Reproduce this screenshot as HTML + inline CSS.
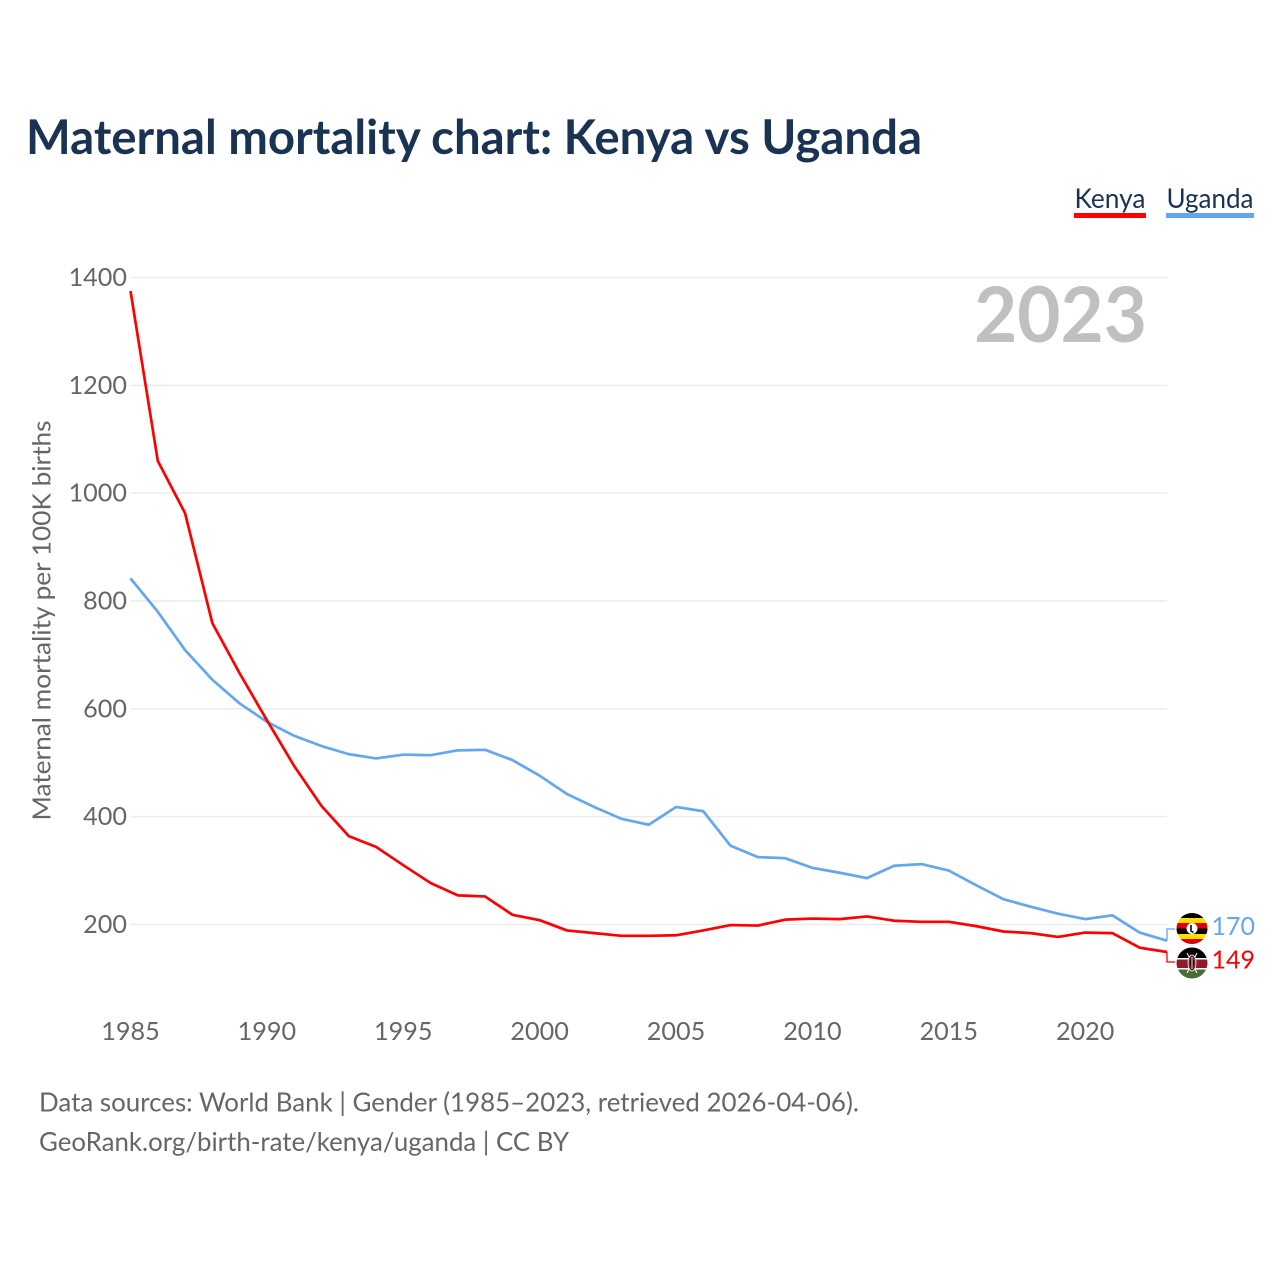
<!DOCTYPE html>
<html lang="en">
<head>
<meta charset="utf-8">
<title>Maternal mortality chart: Kenya vs Uganda</title>
<style>
html,body{margin:0;padding:0;background:#fff;}
svg{display:block;font-family:"Lato","Carlito","Liberation Sans",sans-serif;}
</style>
</head>
<body>
<svg id="chart" xmlns="http://www.w3.org/2000/svg" width="1280" height="1280" viewBox="0 0 1280 1280">
  <defs>
    <clipPath id="clip-ug"><circle cx="1192" cy="928.5" r="15.5"/></clipPath>
    <clipPath id="clip-ke"><circle cx="1192" cy="963" r="15.5"/></clipPath>
  </defs>
  <rect x="0" y="0" width="1280" height="1280" fill="#fff"/>
  <text x="26" y="154" font-size="47.5" font-weight="700" fill="#1a3353" textLength="896" lengthAdjust="spacingAndGlyphs">Maternal mortality chart: Kenya vs Uganda</text>

  <g>
    <g>
      <text x="1074.5" y="208" font-size="27" fill="#1a3353" textLength="71" lengthAdjust="spacingAndGlyphs">Kenya</text>
      <rect x="1074" y="213" width="72" height="5" fill="#ff0000"/>
    </g>
    <g>
      <text x="1166.5" y="208" font-size="27" fill="#1a3353" textLength="87" lengthAdjust="spacingAndGlyphs">Uganda</text>
      <rect x="1166" y="213" width="88" height="5" fill="#63a7ee"/>
    </g>
  </g>

  <g id="grid"></g>
  <g id="y-ticks"></g>
  <g id="x-ticks"></g>

  <text transform="translate(50.5,620.5) rotate(-90)" text-anchor="middle" font-size="25.5" fill="#666" textLength="400" lengthAdjust="spacingAndGlyphs">Maternal mortality per 100K births</text>
  <text x="1147" y="342" text-anchor="end" font-size="77" font-weight="700" fill="#c0c0c0" textLength="173" lengthAdjust="spacingAndGlyphs">2023</text>

  <g id="series"></g>
  <g id="end-labels"></g>

  <g clip-path="url(#clip-ug)">
    <rect x="1176" y="913" width="32" height="5" fill="#000"/>
    <rect x="1176" y="918" width="32" height="5" fill="#fcdc04"/>
    <rect x="1176" y="923" width="32" height="5.500" fill="#d90000"/>
    <rect x="1176" y="928.500" width="32" height="5.500" fill="#000"/>
    <rect x="1176" y="934" width="32" height="5" fill="#fcdc04"/>
    <rect x="1176" y="939" width="32" height="5" fill="#d90000"/>
    <circle cx="1192" cy="928.5" r="5.500" fill="#fff"/>
    <path d="M1191 925v6l2.500 1.500" stroke="#222" stroke-width="1.800" fill="none"/>
  </g>
  <g clip-path="url(#clip-ke)">
    <rect x="1176" y="947" width="32" height="11" fill="#000"/>
    <rect x="1176" y="958" width="32" height="1.500" fill="#fff"/>
    <rect x="1176" y="959.500" width="32" height="8.500" fill="#8f1a2b"/>
    <rect x="1176" y="968" width="32" height="1.500" fill="#fff"/>
    <rect x="1176" y="969.500" width="32" height="9" fill="#4a6b35"/>
    <path d="M1187 953l10 20M1197 953l-10 20" stroke="#fff" stroke-width="1"/>
    <ellipse cx="1192" cy="963" rx="4" ry="8" fill="#8f1a2b" stroke="#fff" stroke-width="0.800"/>
    <ellipse cx="1192" cy="963" rx="1.800" ry="6.500" fill="#000"/>
    <rect x="1191.500" y="957" width="1" height="12" fill="#fff"/>
  </g>

  <text x="39" y="1111.5" font-size="26.5" fill="#666" textLength="820" lengthAdjust="spacingAndGlyphs">Data sources: World Bank | Gender (1985–2023, retrieved 2026-04-06).</text>
  <text x="39" y="1151" font-size="26.5" fill="#666" textLength="530" lengthAdjust="spacingAndGlyphs">GeoRank.org/birth-rate/kenya/uganda | CC BY</text>

<script>
const years = [1985,1986,1987,1988,1989,1990,1991,1992,1993,1994,1995,1996,1997,1998,1999,2000,2001,2002,2003,2004,2005,2006,2007,2008,2009,2010,2011,2012,2013,2014,2015,2016,2017,2018,2019,2020,2021,2022,2023];
const kenyaValues = [1375,1060,963,759,666,579,494,420,364,344,310,277,254,252,218,208,189,184,179,179,180,189,199,198,209,211,210,215,207,205,205,197,187,184,177,185,184,157,149];
const ugandaValues = [842,780,709,654,610,576,550,531,516,508,515,514,523,524,505,476,442,418,396,385,418,410,346,325,323,305,296,286,309,312,300,273,247,233,220,210,217,185,170];
const yTickValues = [200,400,600,800,1000,1200,1400];
const xTickValues = [1985,1990,1995,2000,2005,2010,2015,2020];

const NS = 'http://www.w3.org/2000/svg';
const plot = { left: 130.5, right: 1167, y200: 924.5, y1400: 277.5 };
function xScale(year) {
  const first = years[0];
  const last = years[years.length - 1];
  return plot.left + (year - first) / (last - first) * (plot.right - plot.left);
}
function yScale(value) {
  return plot.y200 + (value - 200) / 1200 * (plot.y1400 - plot.y200);
}
function make(tag, parent, attrs) {
  const el = document.createElementNS(NS, tag);
  for (const k in attrs) el.setAttribute(k, attrs[k]);
  parent.appendChild(el);
  return el;
}

const gridGroup = document.getElementById('grid');
const yGroup = document.getElementById('y-ticks');
const xGroup = document.getElementById('x-ticks');
const seriesGroup = document.getElementById('series');
const endGroup = document.getElementById('end-labels');

yTickValues.forEach(function (v) {
  const line = make('line', gridGroup, { x1: plot.left, x2: plot.right, y1: yScale(v), y2: yScale(v), stroke: '#ececec', 'stroke-width': 1.5 });
  
  
  const label = make('text', yGroup, { x: 127, y: yScale(v) + 8.5, 'text-anchor': 'end', 'font-size': 25.2, fill: '#666' });
  
  
  label.textContent = v;
});

xTickValues.forEach(function (v) {
  const label = make('text', xGroup, { x: xScale(v), y: 1040, 'text-anchor': 'middle', 'font-size': 25.2, fill: '#666' });
  
  
  label.textContent = v;
});

function drawSeries(values, color, key, labelY, flagY) {
  const pts = values.map(function (v, i) { return xScale(years[i]).toFixed(2) + ',' + yScale(v).toFixed(2); }).join(' ');
  const line = make('polyline', seriesGroup, { points: pts, fill: 'none', stroke: color, 'stroke-width': 2.7, 'stroke-linejoin': 'round' });
  
  

  const lastVal = values[values.length - 1];
  const endX = xScale(years[years.length - 1]);
  const endY = yScale(lastVal);
  const connector = make('polyline', endGroup, { points: endX + ',' + endY + ' ' + endX + ',' + flagY + ' ' + (endX + 8) + ',' + flagY, fill: 'none', stroke: color, 'stroke-width': 1.3 });
  
  

  const label = make('text', endGroup, { x: 1211.5, y: labelY, 'font-size': 25, fill: color });
  
  
  label.textContent = lastVal;
}
drawSeries(ugandaValues, '#63a7ee', 'uganda', 935, 929);
drawSeries(kenyaValues, '#ff0000', 'kenya', 968.5, 962);
</script>
</svg>
</body>
</html>
